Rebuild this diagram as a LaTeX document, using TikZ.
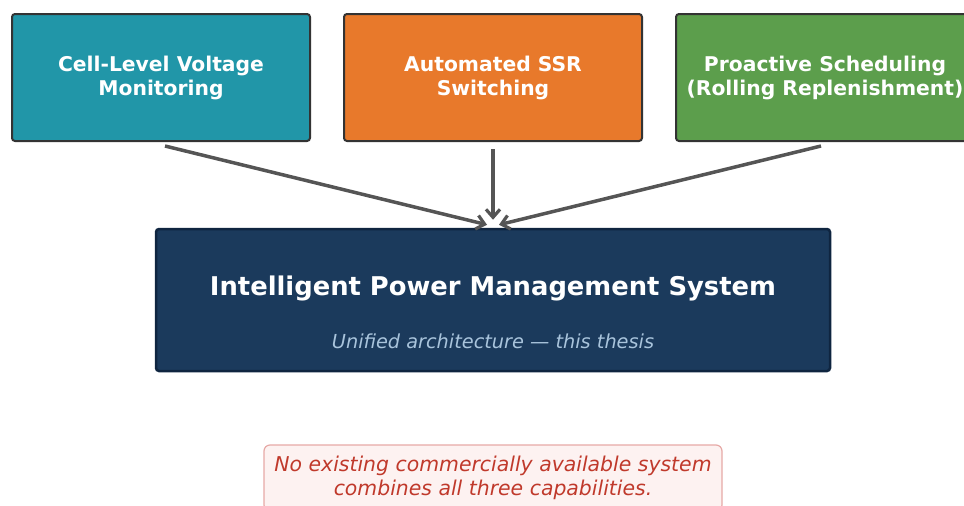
\documentclass[tikz,border=0pt]{standalone}
\usepackage{fontspec}
\setmainfont{DejaVu Sans}
\usetikzlibrary{arrows.meta}

\definecolor{tealbox}{HTML}{2196A8}
\definecolor{orangebox}{HTML}{E8792B}
\definecolor{greenbox}{HTML}{5C9E4C}
\definecolor{navybox}{HTML}{1B3A5C}
\definecolor{navyedge}{HTML}{0F2540}
\definecolor{boxedge}{HTML}{333333}
\definecolor{arrowgray}{HTML}{555555}
\definecolor{subtext}{HTML}{A9C4DC}
\definecolor{notefill}{HTML}{FDF2F1}
\definecolor{noteedge}{HTML}{E6A9A6}
\definecolor{notetext}{HTML}{C0392B}

\tikzset{
  feature/.style={draw=boxedge, line width=2pt, rounded corners=3pt,
    minimum width=298pt, minimum height=127pt, text=white, align=center,
    font=\fontsize{20.3}{24}\selectfont\bfseries},
  flow/.style={draw=arrowgray, line width=3.5pt,
    -{Straight Barb[length=8pt,width=14pt,line width=3.2pt]}},
}

\begin{document}
\begin{tikzpicture}[x=1pt,y=-1pt]
  \useasboundingbox (0,0) rectangle (964,506);

  % three capability boxes
  \node[feature, fill=tealbox]   (b1) at (161,77.5) {Cell-Level Voltage\\Monitoring};
  \node[feature, fill=orangebox] (b2) at (493,77.5) {Automated SSR\\Switching};
  \node[feature, fill=greenbox]  (b3) at (825,77.5) {Proactive Scheduling\\(Rolling Replenishment)};

  % unified system box
  \node[draw=navyedge, line width=2.5pt, fill=navybox, rounded corners=3pt,
        minimum width=674pt, minimum height=142pt] (m) at (493,300) {};
  \node[text=white, font=\fontsize{25.8}{30}\selectfont\bfseries] (mt) at (493,288)
    {Intelligent Power Management System};
  \node[text=subtext, font=\fontsize{19.3}{23}\selectfont\itshape] (ms) at (493,341)
    {Unified architecture — this thesis};

  % connectors
  \coordinate (s1) at ([shift={(4,4)}]b1.south);
  \coordinate (s2) at ([shift={(0,7)}]b2.south);
  \coordinate (s3) at ([shift={(-4,4)}]b3.south);
  \coordinate (e1) at ([shift={(-6,-3)}]m.north);
  \coordinate (e2) at ([shift={(0,-8)}]m.north);
  \coordinate (e3) at ([shift={(6,-3)}]m.north);
  \draw[flow] (s1) -- (e1);
  \draw[flow] (s2) -- (e2);
  \draw[flow] (s3) -- (e3);

  % remark box
  \node[draw=noteedge, line width=1.2pt, fill=notefill, rounded corners=6pt,
        minimum width=458pt, minimum height=66pt] (n) at (493,478) {};
  \node[text=notetext, align=center, font=\fontsize{20.4}{24}\selectfont\itshape] (nt) at (493,477.5)
    {No existing commercially available system\\combines all three capabilities.};
\end{tikzpicture}
\end{document}
